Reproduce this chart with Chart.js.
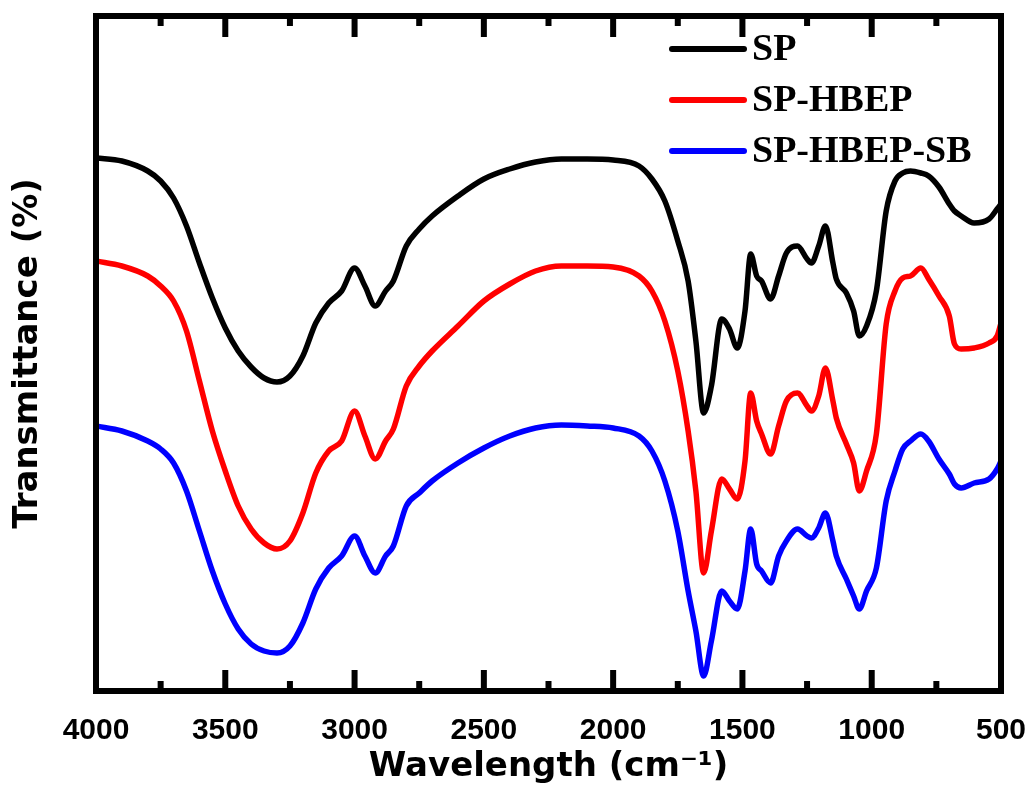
<!DOCTYPE html>
<html>
<head>
<meta charset="utf-8">
<script src="https://cdn.jsdelivr.net/npm/chart.js@4"></script>
<style>
  html, body { margin: 0; padding: 0; background: #fff; }
  #wrap { width: 1033px; height: 794px; }
</style>
</head>
<body>
<div id="wrap"><canvas id="ftir"></canvas></div>
<script>
// wavenumbers (cm-1), shared by all three spectra
var wavenumbers = [4000, 3900, 3800, 3750, 3700, 3650, 3600, 3550, 3500, 3450,
  3400, 3350, 3300, 3250, 3200, 3150, 3100, 3050, 3000, 2960,
  2920, 2880, 2850, 2800, 2750, 2700, 2600, 2500, 2400, 2300,
  2200, 2100, 2000, 1900, 1850, 1800, 1750, 1710, 1680, 1650,
  1620, 1580, 1550, 1520, 1490, 1468, 1445, 1426, 1391, 1360,
  1330, 1287, 1250, 1233, 1205, 1179, 1150, 1137, 1098, 1070,
  1048, 1020, 982, 944, 910, 880, 850, 810, 780, 740,
  700, 680, 654, 604, 546, 515, 500];

// transmittance, arbitrary units (curves are stacked with offsets)
var spT = [533, 530, 520, 510, 493, 465, 428, 393, 363, 340,
  324, 313, 309, 315, 335, 368, 388, 400, 423, 405,
  385, 400, 410, 445, 462, 475, 495, 512, 522, 529,
  532, 532, 531, 525, 512, 490, 450, 410, 350, 278,
  305, 372, 362, 343, 380, 437, 415, 410, 392, 415,
  438, 445, 432, 428, 445, 465, 428, 412, 398, 380,
  355, 365, 400, 480, 510, 518, 520, 518, 515, 504,
  487, 480, 475, 468, 472, 482, 487];

var hbepT = [430, 425, 415, 405, 390, 360, 310, 260, 220, 185,
  162, 148, 142, 150, 178, 218, 240, 250, 280, 255,
  232, 250, 262, 305, 325, 340, 365, 390, 407, 420,
  425, 425, 424, 415, 400, 370, 320, 260, 200, 118,
  160, 212, 202, 192, 230, 298, 270, 257, 237, 265,
  290, 298, 285, 280, 295, 323, 290, 273, 247, 228,
  200, 220, 257, 367, 400, 413, 415, 423, 412, 395,
  375, 347, 342, 343, 348, 355, 368];

var sbT = [265, 260, 250, 242, 228, 200, 160, 120, 87, 62,
  47, 40, 38, 45, 68, 102, 123, 135, 155, 135,
  118, 135, 145, 185, 198, 210, 228, 243, 255, 263,
  266, 265, 263, 255, 240, 210, 160, 100, 60, 15,
  50, 100, 90, 82, 120, 162, 127, 120, 108, 135,
  150, 162, 155, 153, 163, 178, 150, 135, 112, 95,
  82, 100, 123, 190, 220, 242, 250, 257, 250, 232,
  217, 207, 203, 208, 212, 222, 230];

var seriesNames = ["SP", "SP-HBEP", "SP-HBEP-SB"];
var seriesColors = ["#000000", "#ff0000", "#0000ff"];
var xTicks = [4000, 3500, 3000, 2500, 2000, 1500, 1000, 500];

function toPoints(ys) {
  return wavenumbers.map(function (w, i) { return { x: w, y: ys[i] }; });
}

// frame with inward ticks top and bottom + legend in the corner
var frameAndLegend = {
  id: 'frameAndLegend',
  afterDraw: function (chart) {
    var ctx = chart.ctx;
    var a = chart.chartArea;
    var xs = chart.scales.x;
    ctx.save();
    ctx.strokeStyle = '#000';
    ctx.lineWidth = 6;
    ctx.lineCap = 'square';
    ctx.strokeRect(a.left, a.top, a.right - a.left, a.bottom - a.top);

    ctx.lineCap = 'butt';
    for (var v = 3750; v > 500; v -= 250) {
      var px = xs.getPixelForValue(v);
      var len = (v % 500 === 0) ? 21 : 10;
      ctx.beginPath();
      ctx.moveTo(px, a.bottom);
      ctx.lineTo(px, a.bottom - len);
      ctx.moveTo(px, a.top);
      ctx.lineTo(px, a.top + len);
      ctx.stroke();
    }

    // legend
    ctx.font = 'bold 38px "Liberation Serif", "Times New Roman", serif';
    ctx.textBaseline = 'middle';
    ctx.textAlign = 'left';
    chart.data.datasets.forEach(function (ds, i) {
      var y = 49 + i * 51;
      ctx.strokeStyle = ds.borderColor;
      ctx.lineWidth = 6;
      ctx.lineCap = 'round';
      ctx.beginPath();
      ctx.moveTo(672, y);
      ctx.lineTo(744, y);
      ctx.stroke();
      ctx.fillStyle = '#000';
      ctx.fillText(ds.label, 752, y + 1);
    });
    ctx.restore();
  }
};

var ctx = document.getElementById('ftir').getContext('2d');
var ftirChart = new Chart(ctx, {
  type: 'line',
  data: {
    datasets: [
      { label: seriesNames[0], data: toPoints(spT), borderColor: seriesColors[0] },
      { label: seriesNames[1], data: toPoints(hbepT), borderColor: seriesColors[1] },
      { label: seriesNames[2], data: toPoints(sbT), borderColor: seriesColors[2] }
    ]
  },
  options: {
    responsive: true,
    maintainAspectRatio: false,
    animation: false,
    devicePixelRatio: 1,
    layout: { padding: { left: 0, right: 32, top: 16, bottom: 0 } },
    elements: {
      line: { borderWidth: 5.5, cubicInterpolationMode: 'monotone', fill: false },
      point: { radius: 0 }
    },
    plugins: {
      legend: { display: false },
      tooltip: { enabled: false }
    },
    scales: {
      x: {
        type: 'linear',
        reverse: true,
        min: 500,
        max: 4000,
        grid: { display: false, drawTicks: false },
        border: { display: false },
        afterBuildTicks: function (s) {
          s.ticks = xTicks.map(function (v) { return { value: v }; });
        },
        afterFit: function (s) {
          s.height = 103;
          s.paddingLeft = 0;
          s.paddingRight = 0;
        },
        ticks: {
          padding: 22,
          maxRotation: 0,
          color: '#000',
          callback: function (v) { return String(v); },
          font: { family: '"Liberation Sans", Arial, sans-serif', size: 30, weight: 'bold' }
        },
        title: {
          display: true,
          text: 'Wavelength (cm\u207B\u00B9)',
          color: '#000',
          padding: { top: 0, bottom: 6 },
          font: { family: '"DejaVu Sans", sans-serif', size: 34, weight: 'bold' }
        }
      },
      y: {
        min: 0,
        max: 675,
        grid: { display: false, drawTicks: false },
        border: { display: false },
        ticks: { display: false },
        afterFit: function (s) {
          s.width = 96;
          s.paddingTop = 0;
          s.paddingBottom = 0;
        },
        title: {
          display: true,
          text: 'Transmittance (%)',
          color: '#000',
          padding: { top: 8, bottom: 0 },
          font: { family: '"DejaVu Sans", sans-serif', size: 34, weight: 'bold' }
        }
      }
    }
  },
  plugins: [frameAndLegend]
});
</script>
</body>
</html>
